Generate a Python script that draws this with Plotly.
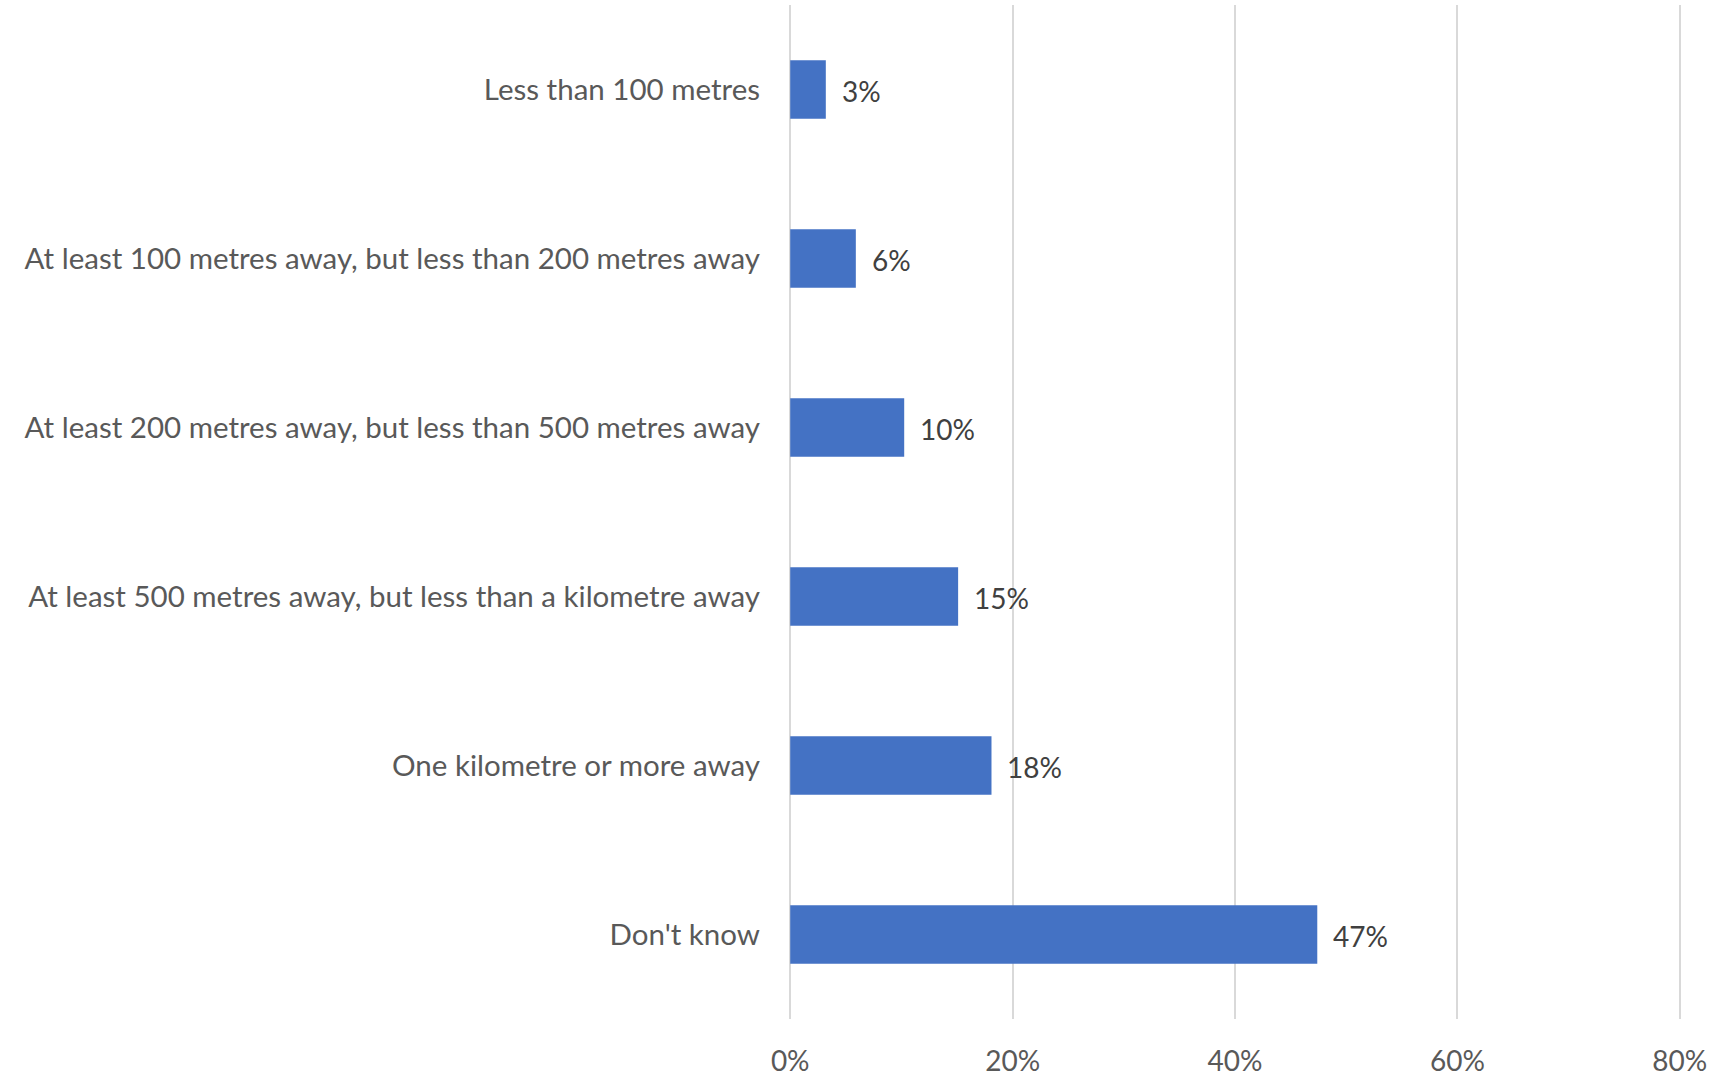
import plotly.graph_objects as go

categories = [
    "Less than 100 metres",
    "At least 100 metres away, but less than 200 metres away",
    "At least 200 metres away, but less than 500 metres away",
    "At least 500 metres away, but less than a kilometre away",
    "One kilometre or more away",
    "Don't know",
]
values = [3.2, 5.9, 10.25, 15.1, 18.1, 47.4]
value_labels = ["3%", "6%", "10%", "15%", "18%", "47%"]
x_ticks = [0, 20, 40, 60, 80]
x_tick_labels = ["0%", "20%", "40%", "60%", "80%"]

FONT = "Lato, Open Sans, sans-serif"

fig = go.Figure()
fig.add_trace(go.Bar(
    x=values,
    y=categories,
    orientation="h",
    marker=dict(color="#4472C4", line=dict(width=0)),
    hoverinfo="skip",
))

for v, lab, c in zip(values, value_labels, categories):
    fig.add_annotation(
        x=v, y=c, text=lab, showarrow=False,
        xanchor="left", yanchor="middle", xshift=14, yshift=-1,
        font=dict(family=FONT, size=28, color="#404040"),
    )

fig.update_layout(
    width=1735, height=1076,
    margin=dict(l=788, r=53, t=5, b=57, autoexpand=False),
    paper_bgcolor="white", plot_bgcolor="white",
    bargap=0.653,
    showlegend=False,
    font=dict(family=FONT, color="#595959"),
)
fig.update_xaxes(
    range=[-0.2, 80.2],
    tickvals=x_ticks, ticktext=x_tick_labels,
    showgrid=True, gridcolor="#D9D9D9", gridwidth=2,
    zeroline=True, zerolinecolor="#D9D9D9", zerolinewidth=2,
    showline=False,
    tickfont=dict(family=FONT, size=28, color="#595959"),
    ticklabelstandoff=23,
    automargin=False,
    fixedrange=True,
)
fig.update_yaxes(
    autorange="reversed",
    showgrid=False, zeroline=False, showline=False,
    tickfont=dict(family=FONT, size=29.5, color="#595959"),
    ticklabelstandoff=27,
    automargin=False,
    fixedrange=True,
)

fig.write_html(
    "out.html",
    config={"displayModeBar": False},
    post_script="document.body.style.margin='0';document.body.style.overflow='hidden';",
)
